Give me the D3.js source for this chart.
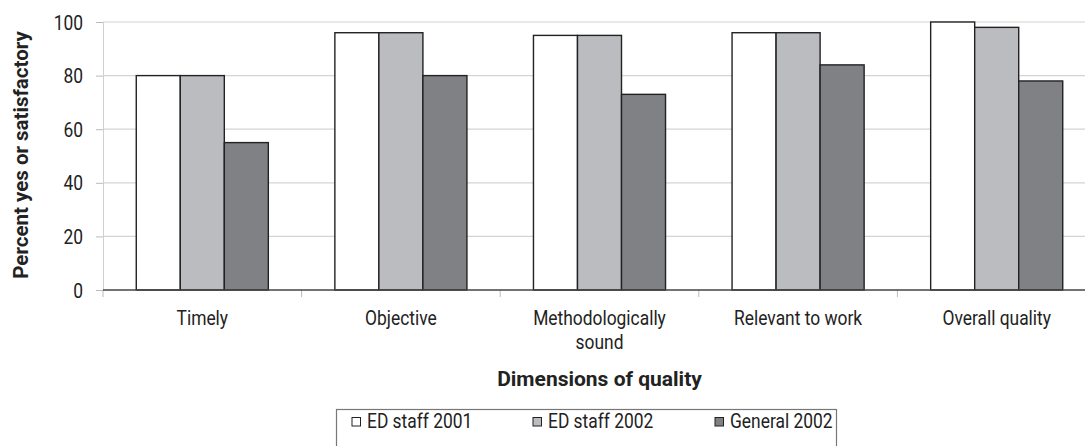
<!DOCTYPE html>
<html>
<head>
<meta charset="utf-8">
<script src="https://cdn.jsdelivr.net/npm/d3@7"></script>
<style>
  html, body { margin: 0; padding: 0; background: #fff; }
  svg { display: block; }
  text { font-family: "Roboto", "Liberation Sans", sans-serif; fill: #222; }
</style>
</head>
<body>
<svg id="chart" width="1085" height="446"></svg>
<script>
const categories = ["Timely", "Objective", "Methodologically sound", "Relevant to work", "Overall quality"];
const seriesNames = ["ED staff 2001", "ED staff 2002", "General 2002"];
const edStaff2001 = [80, 96, 95, 96, 100];
const edStaff2002 = [80, 96, 95, 96, 98];
const general2002 = [55, 80, 73, 84, 78];
const yTicks = [0, 20, 40, 60, 80, 100];
const seriesColors = ["#ffffff", "#bbbcc0", "#808185"];

const seriesValues = [edStaff2001, edStaff2002, general2002];

const svg = d3.select("#chart");
const W = 1085;
const plotLeft = 103, plotRight = 1096, plotTop = 22, plotBottom = 290;
const FONT = 20, SQUEEZE = 0.87;   // narrow text: horizontal squeeze factor

// place text at (cx, cy) squeezed horizontally
function narrowAt(sel, cx, cy) {
  sel.attr("x", 0).attr("y", 0)
     .attr("transform", `translate(${cx},${cy}) scale(${SQUEEZE},1)`);
}

const x = d3.scaleBand().domain(categories).range([plotLeft, plotRight]).padding(0);
const bw = x.bandwidth();
const xs = d3.scaleBand().domain(seriesNames).range([bw * 0.1675, bw * 0.8325]).padding(0);
const y = d3.scaleLinear().domain([0, 100]).range([plotBottom, plotTop]);

// horizontal gridlines
svg.append("g").selectAll("line")
  .data(yTicks.filter(t => t > 0))
  .join("line")
  .attr("x1", plotLeft).attr("x2", W)
  .attr("y1", d => y(d)).attr("y2", d => y(d))
  .attr("stroke", "#d4d4d4").attr("stroke-width", 1.2);

// y axis
const yAxis = d3.axisLeft(y).tickValues(yTicks).tickSize(7).tickPadding(13).tickFormat(d3.format("d"));
const yg = svg.append("g").attr("transform", `translate(${plotLeft},0)`).call(yAxis);
yg.select(".domain").attr("stroke", "#d0d0d0").attr("stroke-width", 1);
yg.selectAll(".tick line").attr("stroke", "#bbb");
yg.selectAll(".tick text")
  .attr("font-size", FONT).attr("fill", "#222")
  .attr("font-family", '"Roboto", sans-serif')
  .attr("dy", null)
  .each(function () { narrowAt(d3.select(this), -20, 7); });

// x category separator ticks
svg.append("g").selectAll("line")
  .data(categories.map(c => x(c)))
  .join("line")
  .attr("x1", d => d).attr("x2", d => d)
  .attr("y1", plotBottom).attr("y2", plotBottom + 7)
  .attr("stroke", "#bbb").attr("stroke-width", 1);

// bars
const rows = categories.map((c, i) => ({ cat: c, vals: seriesNames.map((s, j) => ({ s, j, v: seriesValues[j][i] })) }));
svg.append("g").selectAll("g")
  .data(rows)
  .join("g")
  .attr("transform", d => `translate(${x(d.cat)},0)`)
  .selectAll("rect")
  .data(d => d.vals)
  .join("rect")
  .attr("x", d => xs(d.s))
  .attr("width", xs.bandwidth())
  .attr("y", d => y(d.v))
  .attr("height", d => y(0) - y(d.v))
  .attr("fill", d => seriesColors[d.j])
  .attr("stroke", "#222").attr("stroke-width", 1.4);

// baseline
svg.append("line")
  .attr("x1", plotLeft).attr("x2", W)
  .attr("y1", plotBottom).attr("y2", plotBottom)
  .attr("stroke", "#444").attr("stroke-width", 1.4);

// category labels
const labelLines = { "Methodologically sound": ["Methodologically", "sound"] };
const catG = svg.append("g");
categories.forEach(c => {
  const lines = labelLines[c] || [c];
  lines.forEach((l, i) => {
    catG.append("text")
      .attr("text-anchor", "middle")
      .attr("font-size", FONT)
      .text(l)
      .call(narrowAt, x(c) + bw / 2, 325 + i * 24);
  });
});

// axis titles
svg.append("text")
  .attr("x", (plotLeft + plotRight) / 2).attr("y", 386)
  .attr("text-anchor", "middle")
  .attr("font-size", 21).attr("font-weight", "bold")
  .attr("fill", "#111")
  .text("Dimensions of quality");

svg.append("text")
  .attr("transform", `translate(28,${(plotTop + plotBottom) / 2 - 1}) rotate(-90)`)
  .attr("text-anchor", "middle")
  .attr("font-size", 20.5).attr("font-weight", "bold")
  .attr("fill", "#111")
  .text("Percent yes or satisfactory");

// legend
const legend = svg.append("g");
legend.append("rect")
  .attr("x", 336.5).attr("y", 409.5).attr("width", 500).attr("height", 60)
  .attr("fill", "none").attr("stroke", "#777").attr("stroke-width", 1.2);
const legendX = [352, 533, 715];
const items = legend.selectAll("g.item").data(seriesNames).join("g")
  .attr("class", "item")
  .attr("transform", (d, i) => `translate(${legendX[i]},0)`);
items.append("rect")
  .attr("x", 0).attr("y", 417.5).attr("width", 8.5).attr("height", 8.5)
  .attr("fill", (d, i) => seriesColors[i])
  .attr("stroke", "#222").attr("stroke-width", 1);
items.append("text")
  .attr("font-size", FONT)
  .text(d => d)
  .each(function () { narrowAt(d3.select(this), 15, 428); });
</script>
</body>
</html>
